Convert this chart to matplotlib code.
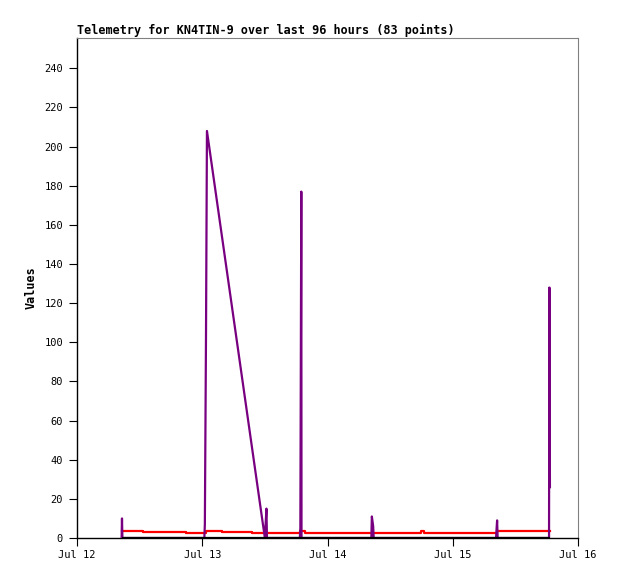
import matplotlib
matplotlib.use("Agg")
import matplotlib.pyplot as plt

# hours since Jul 12 00:00
purple_t = [8.55, 8.62, 8.70, 24.40, 24.50, 24.72, 24.90, 36.00, 36.30, 36.40,
            42.70, 42.80, 42.98, 43.02, 56.40, 56.50, 56.75, 56.85,
            80.30, 80.38, 80.50, 80.60, 90.45, 90.52, 90.62]
purple_v = [0, 10, 0, 0, 7, 104, 208, 0, 15, 0,
            0, 5, 177, 0, 0, 11, 6, 0,
            0, 4, 9, 0, 0, 128, 26]

red_t = [8.62, 12.65, 20.89, 24.72, 27.78, 33.53, 42.73, 43.69, 65.92, 66.49, 80.48, 90.63]
red_v = [3.6, 3.1, 2.6, 3.6, 3.1, 2.6, 3.6, 2.6, 3.6, 2.6, 3.6, 3.6]

black_t = [8.62, 90.63]
black_v = [0, 0]

x_ticks = [0, 24, 48, 72, 96]
x_labels = ["Jul 12", "Jul 13", "Jul 14", "Jul 15", "Jul 16"]
y_ticks = list(range(0, 241, 20))

title = "Telemetry for KN4TIN-9 over last 96 hours (83 points)"

plt.rcParams['font.family'] = ['DejaVu Sans Mono']

fig = plt.figure(figsize=(6.18, 5.79), dpi=100)
ax = fig.add_axes([77/618, 41/579, 501/618, 500/579])

ax.plot(red_t, red_v, color="#ff0000", lw=1.6, drawstyle="steps-post", zorder=2)
ax.plot(purple_t, purple_v, color="#780080", lw=1.6, zorder=3)
ax.plot(black_t, black_v, color="black", lw=1.6, zorder=4, solid_capstyle="butt")

ax.set_xlim(0, 96)
ax.set_ylim(0, 255.5)
ax.set_xticks(x_ticks)
ax.set_xticklabels(x_labels)
ax.set_yticks(y_ticks)
ax.tick_params(axis="both", direction="out", length=6, width=0.8, labelsize=7.5, colors="black")
ax.tick_params(axis="x", pad=3)
ax.tick_params(axis="y", pad=4)

for s in ["left", "bottom"]:
    ax.spines[s].set_color("black")
    ax.spines[s].set_linewidth(1.0)
for s in ["top", "right"]:
    ax.spines[s].set_color("#808080")
    ax.spines[s].set_linewidth(0.8)

ax.set_title(title, loc="left", fontsize=8.45, fontweight="bold", pad=3)
ax.set_ylabel("Values", fontsize=8.45, fontweight="bold", labelpad=5)

fig.savefig("out.png", dpi=100)
